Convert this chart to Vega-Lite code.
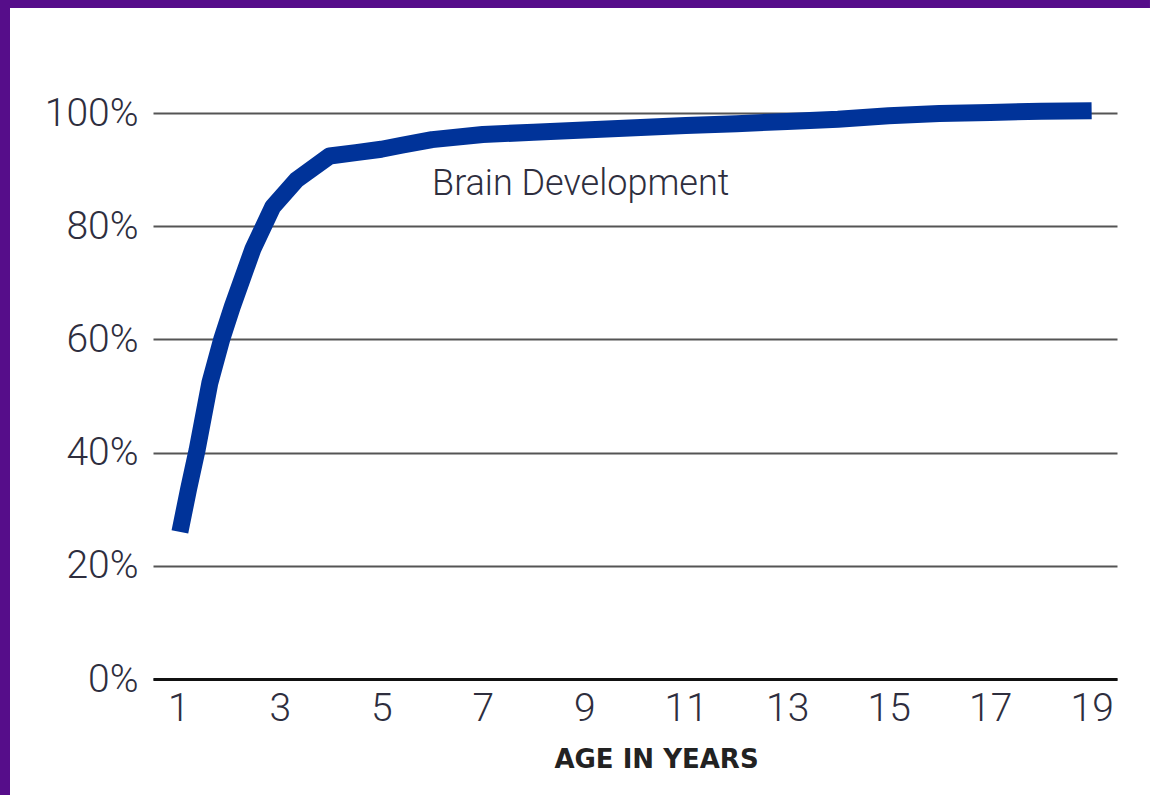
{
  "$schema": "https://vega.github.io/schema/vega-lite/v6.json",
  "width": 964,
  "height": 566,
  "autosize": {"type": "none"},
  "padding": {"left": 153, "top": 113, "right": 33, "bottom": 116},
  "background": "white",
  "config": {
    "view": {"stroke": null},
    "font": "Roboto"
  },
  "datasets": {
    "brain": [
      {"age": 1.03, "pct": 26.0},
      {"age": 1.2, "pct": 33.5},
      {"age": 1.37, "pct": 40.5},
      {"age": 1.62, "pct": 52.3},
      {"age": 1.86, "pct": 60.2},
      {"age": 2.06, "pct": 65.7},
      {"age": 2.47, "pct": 76.0},
      {"age": 2.86, "pct": 83.4},
      {"age": 3.33, "pct": 88.2},
      {"age": 3.98, "pct": 92.4},
      {"age": 4.5, "pct": 93.0},
      {"age": 5.0, "pct": 93.6},
      {"age": 5.4, "pct": 94.3},
      {"age": 6.0, "pct": 95.3},
      {"age": 7.0, "pct": 96.2},
      {"age": 8.0, "pct": 96.6},
      {"age": 9.0, "pct": 97.0},
      {"age": 10.0, "pct": 97.4},
      {"age": 11.0, "pct": 97.8},
      {"age": 12.0, "pct": 98.1},
      {"age": 13.0, "pct": 98.5},
      {"age": 14.0, "pct": 98.9},
      {"age": 15.0, "pct": 99.5},
      {"age": 16.0, "pct": 99.9},
      {"age": 17.0, "pct": 100.1},
      {"age": 18.0, "pct": 100.3},
      {"age": 19.0, "pct": 100.4}
    ],
    "note": [
      {"label": "Brain Development"}
    ]
  },
  "layer": [
    {
      "data": {"name": "brain"},
      "mark": {"type": "line", "color": "#003399", "strokeWidth": 17, "strokeCap": "butt", "strokeJoin": "round"},
      "encoding": {
        "x": {
          "field": "age", "type": "quantitative",
          "scale": {"domain": [0.5, 19.5], "nice": false, "zero": false},
          "axis": {
            "values": [1, 3, 5, 7, 9, 11, 13, 15, 17, 19],
            "grid": false, "ticks": false,
            "domain": true, "domainColor": "#111111", "domainWidth": 3,
            "labelFont": "Roboto", "labelFontWeight": 300, "labelFontSize": 39, "labelColor": "#2e2e3e",
            "labelPadding": 10,
            "title": "AGE IN YEARS",
            "titleFont": "DejaVu Sans", "titleFontWeight": "bold", "titleFontSize": 26, "titleColor": "#222222",
            "titleX": 503, "titleY": 88, "titleAlign": "center", "titleAnchor": null, "titleBaseline": "alphabetic"
          }
        },
        "y": {
          "field": "pct", "type": "quantitative",
          "scale": {"domain": [0, 100], "nice": false, "zero": true},
          "axis": {
            "values": [0, 20, 40, 60, 80, 100],
            "labelExpr": "datum.value + '%'",
            "grid": true, "gridColor": "#555555", "gridWidth": 2,
            "ticks": false, "domain": false,
            "labelFont": "Roboto", "labelFontWeight": 300, "labelFontSize": 39, "labelColor": "#2e2e3e",
            "labelPadding": 15,
            "title": null
          }
        }
      }
    },
    {
      "data": {"name": "note"},
      "mark": {"type": "text", "align": "left", "baseline": "middle", "font": "Roboto", "fontWeight": 300, "fontSize": 36, "color": "#2e2e3e"},
      "encoding": {
        "text": {"field": "label", "type": "nominal"},
        "x": {"datum": 6.0, "type": "quantitative"},
        "y": {"datum": 87.5, "type": "quantitative"}
      }
    },
    {
      "data": {"values": [{}]},
      "mark": {"type": "rect", "fill": "#560d8a", "clip": false},
      "encoding": {
        "x": {"datum": -2.5156, "type": "quantitative"},
        "x2": {"datum": -2.3185},
        "y": {"datum": 119.96, "type": "quantitative"},
        "y2": {"datum": -20.49}
      }
    },
    {
      "data": {"values": [{}]},
      "mark": {"type": "rect", "fill": "#560d8a", "clip": false},
      "encoding": {
        "x": {"datum": -2.5156, "type": "quantitative"},
        "x2": {"datum": 20.15},
        "y": {"datum": 119.96, "type": "quantitative"},
        "y2": {"datum": 118.55}
      }
    }
  ]
}
